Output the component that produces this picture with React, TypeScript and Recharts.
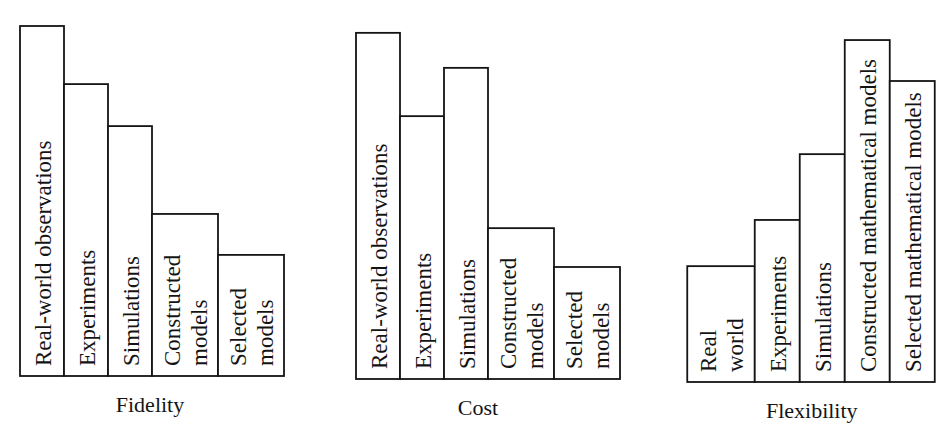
import React from 'react';
import { BarChart, Bar, XAxis, YAxis } from 'recharts';

// labels: one entry per bar, each entry is the list of text lines inside the bar
const fidelityLabels = [
  ['Real-world observations'],
  ['Experiments'],
  ['Simulations'],
  ['Constructed', 'models'],
  ['Selected', 'models'],
];
const fidelityValues = [100, 83.4, 71.4, 46.3, 34.6];

const costLabels = [
  ['Real-world observations'],
  ['Experiments'],
  ['Simulations'],
  ['Constructed', 'models'],
  ['Selected', 'models'],
];
const costValues = [98.9, 75.1, 88.9, 43.1, 32.0];

const flexibilityLabels = [
  ['Real', 'world'],
  ['Experiments'],
  ['Simulations'],
  ['Constructed mathematical models'],
  ['Selected mathematical models'],
];
const flexibilityValues = [33.1, 46.3, 65.1, 97.7, 86.0];

const FONT = '"Liberation Serif", "Times New Roman", serif';
const INK = '#141414';
const PLOT_H = 350;
const PAD = 4;

// one row per slot: a bar with one text line takes 2 slots, with two lines 3 slots
const buildSlots = (labels: string[][], values: number[]) => {
  const rows: any[] = [];
  labels.forEach((lines, i) => {
    const span = lines.length + 1;
    for (let k = 0; k < span; k++) {
      rows.push({
        slot: `${i}-${k}`,
        value: k === 0 ? values[i] : null,
        span: k === 0 ? span : 0,
        lines,
      });
    }
  });
  return rows;
};

const BarShape = (props: any) => {
  const { x, y, width, height, payload, unit } = props;
  if (!payload || !payload.span || height == null) return <g />;
  // bar is centred in its band, so recover the band start from the centre
  const x0 = x + width / 2 - unit / 2;
  const w = unit * payload.span;
  const cx = x0 + w / 2;
  const lines: string[] = payload.lines;
  const asc = 17;
  const lead = 27;
  const block = asc + lead * (lines.length - 1);
  const first = -block / 2 + asc;
  const startY = y + height - 10;
  return (
    <g>
      <rect x={x0} y={y} width={w} height={height} fill="#fff" stroke={INK} strokeWidth={1.8} />
      <g transform={`translate(${cx}, ${startY}) rotate(-90)`}>
        {lines.map((t, j) => (
          <text
            key={j}
            x={0}
            y={first + j * lead}
            textAnchor="start"
            fontFamily={FONT}
            fontSize={23}
            fill={INK}
          >
            {t}
          </text>
        ))}
      </g>
    </g>
  );
};

interface PanelProps {
  title: string;
  labels: string[][];
  values: number[];
  left: number;
  top: number;
  unit: number;
  titleShift: number;
}

const Panel = ({ title, labels, values, left, top, unit, titleShift }: PanelProps) => {
  const data = buildSlots(labels, values);
  const width = data.length * unit + PAD * 2;
  const height = PLOT_H + PAD + 50;
  return (
    <div style={{ position: 'absolute', left: left - PAD, top: top - PAD }}>
      <BarChart
        width={width}
        height={height}
        data={data}
        margin={{ top: PAD, right: PAD, bottom: 0, left: PAD }}
        barCategoryGap={0}
        barGap={0}
      >
        <XAxis
          dataKey="slot"
          tick={false}
          tickLine={false}
          axisLine={false}
          height={50}
          interval={0}
          label={{
            content: (p: any) => {
              const vb = p.viewBox || {};
              return (
                <text
                  x={vb.x + vb.width / 2 + titleShift}
                  y={vb.y + 36}
                  textAnchor="middle"
                  fontFamily={FONT}
                  fontSize={22}
                  fill={INK}
                >
                  {title}
                </text>
              );
            },
          }}
        />
        <YAxis hide domain={[0, 100]} />
        <Bar dataKey="value" shape={<BarShape unit={unit} />} isAnimationActive={false} />
      </BarChart>
    </div>
  );
};

export default function App() {
  return (
    <div style={{ position: 'absolute', left: 0, top: 0, width: 950, height: 438, background: '#fff' }}>
      <Panel title="Fidelity" labels={fidelityLabels} values={fidelityValues} left={20} top={26} unit={22} titleShift={-2} />
      <Panel title="Cost" labels={costLabels} values={costValues} left={356} top={29} unit={22} titleShift={-10} />
      <Panel title="Flexibility" labels={flexibilityLabels} values={flexibilityValues} left={687} top={32} unit={22.5} titleShift={1} />
    </div>
  );
}
